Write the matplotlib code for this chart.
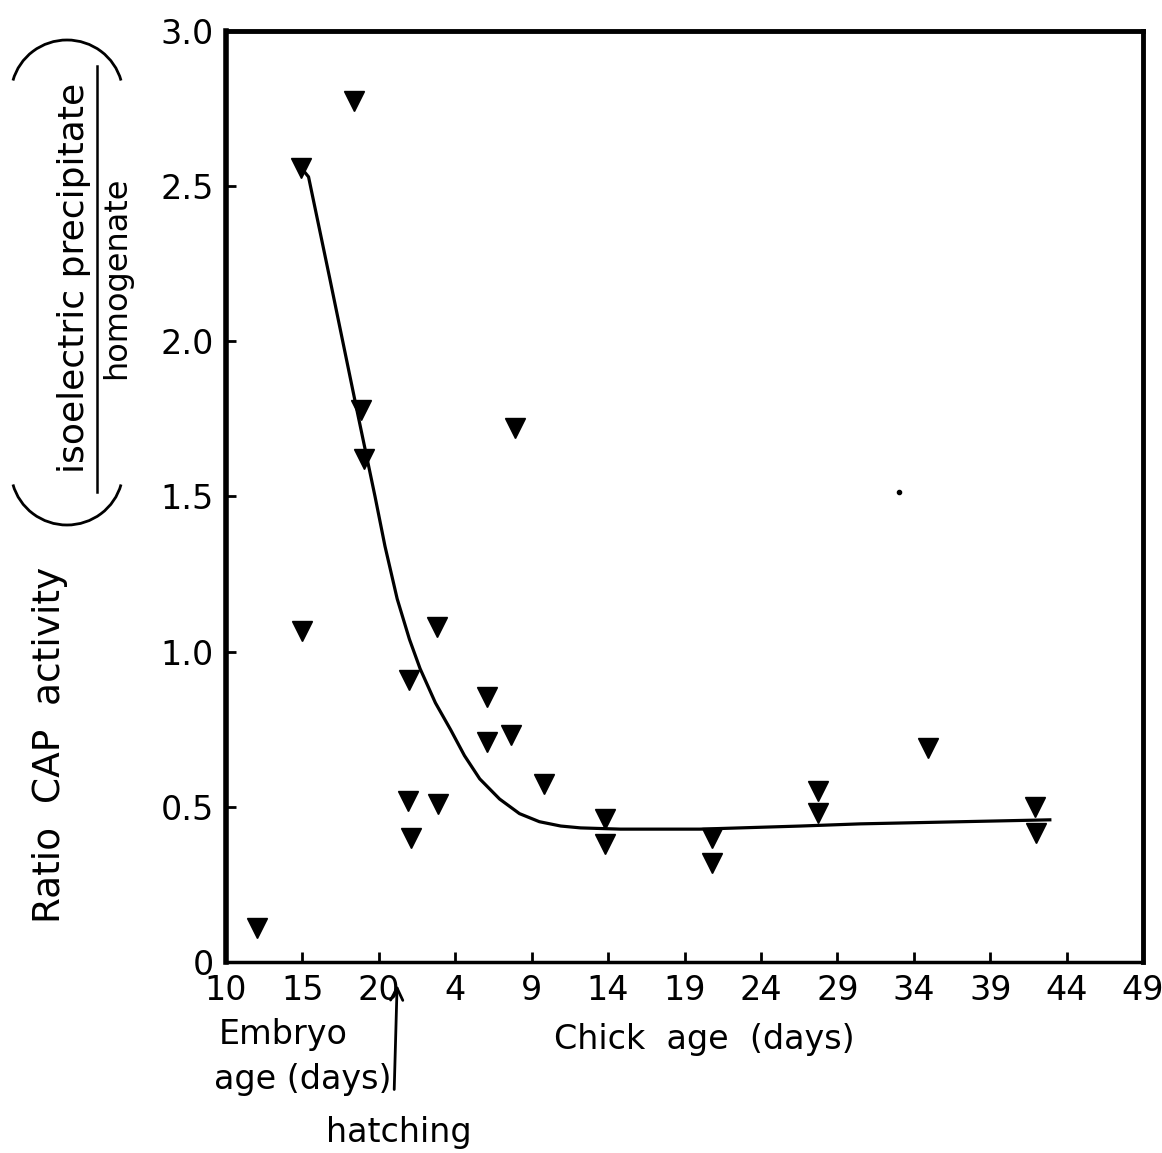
import matplotlib
matplotlib.use("Agg")
import matplotlib.pyplot as plt
from matplotlib.patches import Arc

plt.rcParams['font.family'] = ['DejaVu Sans']

# x = embryo-day scale (embryo day 21 = hatching = chick day 0)
age = [12.0, 14.9, 15.0, 18.4, 18.8, 19.0, 22.0, 21.9, 22.1, 23.8, 23.9,
       27.1, 27.1, 28.65, 28.9, 30.8, 34.8, 34.8, 41.8, 41.8, 48.7, 48.7,
       55.9, 62.9, 63.0]
ratio = [0.11, 2.56, 1.065, 2.775, 1.78, 1.62, 0.91, 0.52, 0.40, 1.08, 0.51,
         0.855, 0.71, 0.73, 1.72, 0.575, 0.46, 0.38, 0.40, 0.32, 0.55, 0.48,
         0.69, 0.50, 0.415]

stray_x = [54.0]
stray_y = [1.515]

curve_x = [14.9, 15.4, 16.8, 18.6, 19.75, 20.4, 21.2, 22.0, 22.7, 23.7, 24.7,
           25.6, 26.6, 27.9, 29.2, 30.5, 31.9, 33.2, 35.8, 41.0, 47.6, 51.5,
           63.9]
curve_y = [2.56, 2.53, 2.20, 1.77, 1.50, 1.34, 1.17, 1.04, 0.945, 0.835,
           0.748, 0.665, 0.59, 0.525, 0.478, 0.452, 0.438, 0.432, 0.428,
           0.428, 0.438, 0.445, 0.458]

xticks = [10, 15, 20, 25, 30, 35, 40, 45, 50, 55, 60, 65, 70]
xticklabels = ['10', '15', '20', '4', '9', '14', '19', '24', '29', '34', '39', '44', '49']
yticks = [0, 0.5, 1.0, 1.5, 2.0, 2.5, 3.0]
yticklabels = ['0', '0.5', '1.0', '1.5', '2.0', '2.5', '3.0']

fig = plt.figure(figsize=(11.62, 11.53), dpi=100)
ax = fig.add_axes([0.1945, 0.1657, 0.7892, 0.8074])

ax.plot(curve_x, curve_y, color='black', lw=2.3, zorder=2)
ax.plot(age, ratio, 'v', color='black', ms=15, zorder=3)
ax.plot(stray_x, stray_y, 'o', color='black', ms=3)

ax.set_xlim(10, 70)
ax.set_ylim(0, 3.0)
ax.set_xticks(xticks)
ax.set_xticklabels(xticklabels)
ax.set_yticks(yticks)
ax.set_yticklabels(yticklabels)
ax.tick_params(direction='in', length=7, width=2, labelsize=24, pad=9)
for side, w in [('left', 4), ('top', 3.5), ('right', 3.5), ('bottom', 2.5)]:
    ax.spines[side].set_linewidth(w)

# hatching arrow and labels under the x axis
ax.annotate('', xy=(21.2, -0.065), xytext=(21.0, -0.42),
            arrowprops=dict(arrowstyle='->', color='black', lw=2,
                            mutation_scale=22),
            annotation_clip=False)
ax.text(21.3, -0.55, 'hatching', ha='center', va='center', fontsize=24)
ax.text(9.5, -0.235, 'Embryo', ha='left', va='center', fontsize=24)
ax.text(9.2, -0.38, 'age (days)', ha='left', va='center', fontsize=24)
ax.text(41.3, -0.25, 'Chick  age  (days)', ha='center', va='center', fontsize=24)

# y-axis label with bracketed fraction, drawn in a pixel-space overlay
ov = fig.add_axes([0, 0, 1, 1], facecolor='none')
ov.set_xlim(0, 1162)
ov.set_ylim(1153, 0)
ov.axis('off')
ov.text(50, 745, 'Ratio  CAP  activity', rotation=90, ha='center', va='center',
        fontsize=27)
ov.text(74, 278, 'isoelectric precipitate', rotation=90, ha='center',
        va='center', fontsize=26)
ov.plot([97, 97], [66, 492], color='black', lw=1.8)
ov.text(117, 278, 'homogenate', rotation=90, ha='center', va='center',
        fontsize=23)
ov.add_patch(Arc((67, 470), 112, 110, theta1=15, theta2=165, color='black', lw=2))
ov.add_patch(Arc((67, 95), 112, 110, theta1=195, theta2=345, color='black', lw=2))

fig.savefig('out.png', dpi=100)
